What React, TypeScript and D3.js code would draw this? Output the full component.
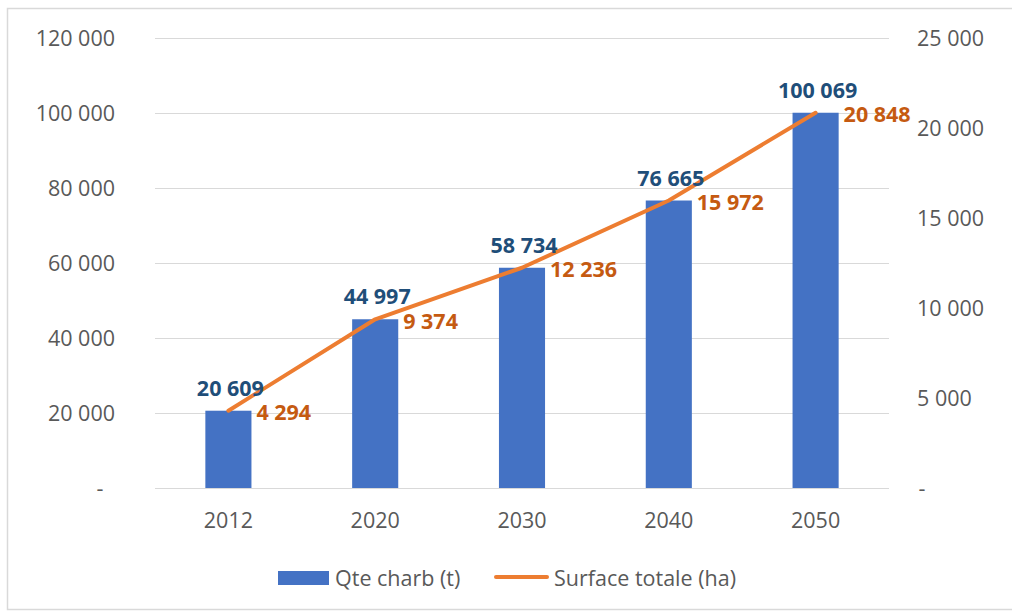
import React, { useEffect, useRef } from "react";
import * as d3 from "d3";

const categories = ["2012", "2020", "2030", "2040", "2050"];
const qteCharb = [20609, 44997, 58734, 76665, 100069];
const surfaceTotale = [4294, 9374, 12236, 15972, 20848];
const leftTicks = [0, 20000, 40000, 60000, 80000, 100000, 120000];
const rightTicks = [0, 5000, 10000, 15000, 20000, 25000];
const seriesNames = ["Qte charb (t)", "Surface totale (ha)"];

const W = 1012;
const H = 613;
const FONT = "'Open Sans', 'Liberation Sans', sans-serif";
const FS = 21.5;

const fmt = (v: number) => (v === 0 ? "-" : d3.format(",")(v).replace(/,/g, " "));

export default function App() {
  const ref = useRef<SVGSVGElement>(null);

  useEffect(() => {
    const svg = d3.select(ref.current);
    svg.selectAll("*").remove();

    const left = 155, right = 889, top = 38, bottom = 488;

    const x = d3.scaleBand().domain(categories).range([left, right]).paddingInner(0.686).paddingOuter(0.343);
    const yL = d3.scaleLinear().domain([0, 120000]).range([bottom, top]);
    const yR = d3.scaleLinear().domain([0, 25000]).range([bottom, top]);

    // border
    svg.append("rect").attr("x", 7.5).attr("y", 8.5).attr("width", W).attr("height", 601)
      .attr("fill", "#fff").attr("stroke", "#d9d9d9").attr("stroke-width", 1.5);

    // gridlines
    svg.append("g").selectAll("line").data(leftTicks).join("line")
      .attr("x1", left).attr("x2", right)
      .attr("y1", (d) => Math.round(yL(d)) + 0.5).attr("y2", (d) => Math.round(yL(d)) + 0.5)
      .attr("stroke", "#d9d9d9").attr("stroke-width", 1.2);

    // left ticks
    svg.append("g").selectAll("text").data(leftTicks).join("text")
      .attr("x", (d) => (d === 0 ? 100 : 115)).attr("y", (d) => yL(d))
      .attr("dy", "0.35em").attr("text-anchor", (d) => (d === 0 ? "middle" : "end"))
      .attr("font-family", FONT).attr("font-size", FS).attr("fill", "#595959")
      .text((d) => fmt(d));

    // right ticks
    svg.append("g").selectAll("text").data(rightTicks).join("text")
      .attr("x", (d) => (d === 0 ? 922 : 917)).attr("y", (d) => yR(d))
      .attr("dy", "0.35em").attr("text-anchor", (d) => (d === 0 ? "middle" : "start"))
      .attr("font-family", FONT).attr("font-size", FS).attr("fill", "#595959")
      .text((d) => fmt(d));

    // x labels
    svg.append("g").selectAll("text").data(categories).join("text")
      .attr("x", (d) => x(d)! + x.bandwidth() / 2).attr("y", 520)
      .attr("dy", "0.35em").attr("text-anchor", "middle")
      .attr("font-family", FONT).attr("font-size", FS).attr("fill", "#595959")
      .text((d) => d);

    // bars
    svg.append("g").selectAll("rect").data(qteCharb).join("rect")
      .attr("x", (_, i) => x(categories[i])!).attr("width", x.bandwidth())
      .attr("y", (d) => yL(d)).attr("height", (d) => bottom - yL(d))
      .attr("fill", "#4472c4");

    // line
    const cx = (i: number) => x(categories[i])! + x.bandwidth() / 2;
    const line = d3.line<number>().x((_, i) => cx(i)).y((d) => yR(d));
    svg.append("path").datum(surfaceTotale).attr("d", line)
      .attr("fill", "none").attr("stroke", "#ed7d31").attr("stroke-width", 4)
      .attr("stroke-linejoin", "round").attr("stroke-linecap", "round");

    // bar labels
    svg.append("g").selectAll("text").data(qteCharb).join("text")
      .attr("x", (_, i) => cx(i) + 2).attr("y", (d) => yL(d) - 15)
      .attr("text-anchor", "middle")
      .attr("font-family", FONT).attr("font-size", FS).attr("font-weight", 700).attr("fill", "#1f4e79")
      .text((d) => fmt(d));

    // line labels
    svg.append("g").selectAll("text").data(surfaceTotale).join("text")
      .attr("x", (_, i) => cx(i) + 28).attr("y", (d) => yR(d) + 2)
      .attr("dy", "0.35em").attr("text-anchor", "start")
      .attr("font-family", FONT).attr("font-size", FS).attr("font-weight", 700).attr("fill", "#c55a11")
      .text((d) => fmt(d));

    // legend
    const lg = svg.append("g");
    lg.append("rect").attr("x", 278).attr("y", 571).attr("width", 51).attr("height", 14).attr("fill", "#4472c4");
    lg.append("text").attr("x", 335).attr("y", 578).attr("dy", "0.35em")
      .attr("font-family", FONT).attr("font-size", FS).attr("fill", "#595959").text(seriesNames[0]);
    lg.append("line").attr("x1", 496).attr("x2", 547).attr("y1", 577).attr("y2", 577)
      .attr("stroke", "#ed7d31").attr("stroke-width", 4).attr("stroke-linecap", "round");
    lg.append("text").attr("x", 554).attr("y", 578).attr("dy", "0.35em")
      .attr("font-family", FONT).attr("font-size", FS).attr("fill", "#595959").text(seriesNames[1]);
  }, []);

  return (
    <svg ref={ref} width={W} height={H} style={{ position: "absolute", left: 0, top: 0, background: "#fff" }} />
  );
}
